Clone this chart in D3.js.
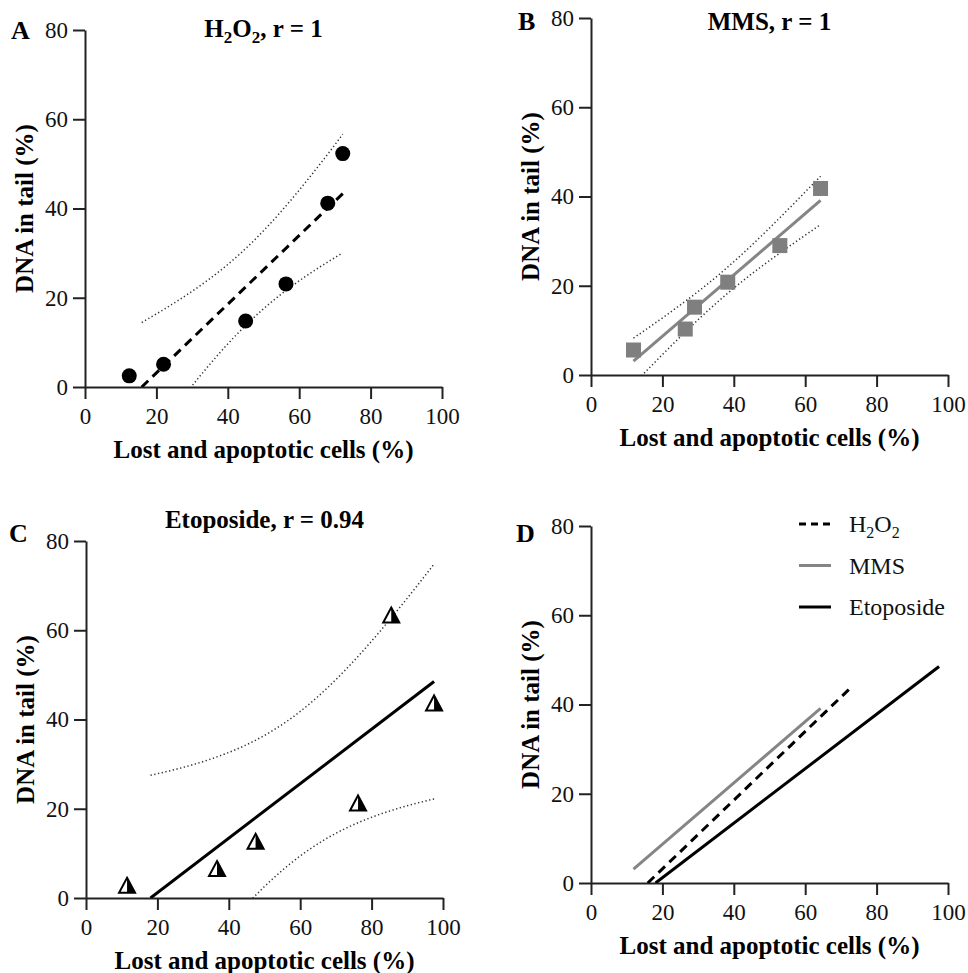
<!DOCTYPE html>
<html>
<head>
<meta charset="utf-8">
<script src="https://cdn.jsdelivr.net/npm/d3@7/dist/d3.min.js"></script>
<style>
  body { margin: 0; background: #fff; }
</style>
</head>
<body>
<div id="chart"></div>
<script>
// tick labels
var xTicks = [0, 20, 40, 60, 80, 100];
var yTicks = [0, 20, 40, 60, 80];

// lost and apoptotic cells (%) vs DNA in tail (%)
var h2o2X = [12.4, 22.0, 45.0, 56.3, 68.0, 72.2];
var h2o2Y = [2.5, 5.1, 14.8, 23.1, 41.2, 52.3];
var mmsX = [11.9, 26.4, 29.0, 38.3, 52.9, 64.3];
var mmsY = [5.6, 10.3, 15.2, 20.8, 29.0, 41.8];
var etoX = [11.5, 36.7, 47.5, 76.2, 85.5, 97.5];
var etoY = [2.85, 6.6, 12.7, 21.3, 63.4, 43.7];

var seriesNames = ['H2O2', 'MMS', 'Etoposide'];

var W = 968, H = 973;
var size = 357;
var font = 'Liberation Serif, Times New Roman, serif';

var svg = d3.select('#chart')
    .append('svg')
        .attr('width', W)
        .attr('height', H)
        .attr('font-family', font)
        .style('font-family', font);

// linear regression + 95% confidence band (n = 6, t = 2.776 for 4 df)
function fit(xs, ys) {
    var n = xs.length;
    var mx = d3.mean(xs), my = d3.mean(ys);
    var sxx = d3.sum(xs, function (x) { return (x - mx) * (x - mx); });
    var sxy = d3.sum(xs, function (x, i) { return (x - mx) * (ys[i] - my); });
    var b = sxy / sxx, a = my - b * mx;
    var ssr = d3.sum(xs, function (x, i) { var r = ys[i] - (a + b * x); return r * r; });
    var s = Math.sqrt(ssr / (n - 2));
    var t = 2.776;
    var x0 = Math.max(d3.min(xs), -a / b), x1 = d3.max(xs);
    var steps = d3.range(0, 81).map(function (i) { return x0 + (x1 - x0) * i / 80; });
    function half(x) { return t * s * Math.sqrt(1 / n + (x - mx) * (x - mx) / sxx); }
    return {
        line: [[x0, a + b * x0], [x1, a + b * x1]],
        upper: steps.map(function (x) { return [x, a + b * x + half(x)]; }),
        lower: steps.map(function (x) { return [x, a + b * x - half(x)]; })
    };
}

var styles = {
    H2O2: { stroke: '#000', dash: '9,6' },
    MMS: { stroke: '#858585', dash: null },
    Etoposide: { stroke: '#000', dash: null }
};

function panel(cfg) {
    var g = svg.append('g').attr('transform', 'translate(' + cfg.left + ',' + cfg.top + ')');
    var x = d3.scaleLinear().domain([0, 100]).range([0, size]);
    var y = d3.scaleLinear().domain([0, 80]).range([size, 0]);

    var clipId = 'clip-' + cfg.letter;
    g.append('clipPath').attr('id', clipId)
        .append('rect')
            .attr('x', 0).attr('y', -40)
            .attr('width', size).attr('height', size + 40);

    var xAxis = g.append('g')
        .attr('transform', 'translate(0,' + size + ')')
        .call(d3.axisBottom(x).tickValues(xTicks).tickSize(12).tickSizeOuter(0).tickPadding(9));
    var yAxis = g.append('g')
        .call(d3.axisLeft(y).tickValues(yTicks).tickSize(12).tickSizeOuter(0).tickPadding(5));
    [xAxis, yAxis].forEach(function (ax) {
        ax.attr('font-family', font).attr('font-size', 23);
        ax.selectAll('path, line').attr('stroke', '#222').attr('stroke-width', 2);
        ax.selectAll('text')
            .attr('fill', '#111')
            .attr('font-family', font)
            .attr('font-size', 23)
            .style('font-family', font)
            .style('font-size', '23px');
    });

    g.append('text')
        .attr('x', size / 2)
        .attr('y', size + 71)
        .attr('text-anchor', 'middle')
        .attr('font-weight', 'bold')
        .attr('font-size', 25)
        .text('Lost and apoptotic cells (%)');

    g.append('text')
        .attr('transform', 'translate(-52,' + (size / 2) + ') rotate(-90)')
        .attr('text-anchor', 'middle')
        .attr('font-weight', 'bold')
        .attr('font-size', 25)
        .text('DNA in tail (%)');

    svg.append('text')
        .attr('x', cfg.letterX)
        .attr('y', cfg.letterY)
        .attr('font-weight', 'bold')
        .attr('font-size', 26)
        .text(cfg.letter);

    if (cfg.title) {
        var t = svg.append('text')
            .attr('x', cfg.left + size / 2)
            .attr('y', cfg.titleY)
            .attr('text-anchor', 'middle')
            .attr('font-weight', 'bold')
            .attr('font-size', 25);
        cfg.title(t);
    }

    var plot = g.append('g').attr('clip-path', 'url(#' + clipId + ')');
    var line = d3.line()
        .x(function (d) { return x(d[0]); })
        .y(function (d) { return y(d[1]); });

    return { g: g, plot: plot, x: x, y: y, line: line };
}

function drawFit(p, name, xs, ys, withBands) {
    var f = fit(xs, ys);
    var st = styles[name];
    if (withBands) {
        [f.upper, f.lower].forEach(function (band) {
            p.plot.append('path')
                .attr('d', p.line(band))
                .attr('fill', 'none')
                .attr('stroke', '#333')
                .attr('stroke-width', 1.5)
                .attr('stroke-dasharray', '1.3,2.5');
        });
    }
    p.plot.append('path')
        .attr('d', p.line(f.line))
        .attr('fill', 'none')
        .attr('stroke', st.stroke)
        .attr('stroke-width', 3)
        .attr('stroke-dasharray', st.dash);
}

function h2o2Text(t, sub) {
    t.append('tspan').text('H');
    t.append('tspan').attr('dy', 6).attr('font-size', sub).text('2');
    t.append('tspan').attr('dy', -6).text('O');
    t.append('tspan').attr('dy', 6).attr('font-size', sub).text('2');
}

// A: H2O2
var pA = panel({ letter: 'A', left: 85, top: 30, letterX: 11, letterY: 39, titleY: 37,
    title: function (t) { h2o2Text(t, 17); t.append('tspan').attr('dy', -6).text(', r = 1'); } });
drawFit(pA, 'H2O2', h2o2X, h2o2Y, true);
pA.g.append('g').selectAll('circle')
    .data(h2o2X)
    .enter()
    .append('circle')
        .attr('cx', function (d) { return pA.x(d); })
        .attr('cy', function (d, i) { return pA.y(h2o2Y[i]); })
        .attr('r', 7.5)
        .attr('fill', '#000');

// B: MMS
var pB = panel({ letter: 'B', left: 591, top: 18, letterX: 518, letterY: 30, titleY: 30,
    title: function (t) { t.text('MMS, r = 1'); } });
drawFit(pB, 'MMS', mmsX, mmsY, true);
pB.g.append('g').selectAll('rect')
    .data(mmsX)
    .enter()
    .append('rect')
        .attr('x', function (d) { return pB.x(d) - 7.5; })
        .attr('y', function (d, i) { return pB.y(mmsY[i]) - 7.5; })
        .attr('width', 15)
        .attr('height', 15)
        .attr('fill', '#7f7f7f');

// C: Etoposide
var pC = panel({ letter: 'C', left: 86, top: 541, letterX: 9, letterY: 542, titleY: 528,
    title: function (t) { t.text('Etoposide, r = 0.94'); } });
drawFit(pC, 'Etoposide', etoX, etoY, true);
var tri = pC.g.append('g').selectAll('g')
    .data(etoX)
    .enter()
    .append('g')
        .attr('transform', function (d, i) { return 'translate(' + pC.x(d) + ',' + pC.y(etoY[i]) + ')'; });
tri.append('path')
    .attr('d', 'M0,-7.5L8,7.5H-8Z')
    .attr('fill', '#fff')
    .attr('stroke', '#000')
    .attr('stroke-width', 2)
    .attr('stroke-linejoin', 'miter');
tri.append('path')
    .attr('d', 'M0,-7.5L8,7.5H0Z')
    .attr('fill', '#000');

// D: all fits
var pD = panel({ letter: 'D', left: 591, top: 526, letterX: 516, letterY: 542, titleY: null, title: null });
drawFit(pD, 'MMS', mmsX, mmsY, false);
drawFit(pD, 'H2O2', h2o2X, h2o2Y, false);
drawFit(pD, 'Etoposide', etoX, etoY, false);

var legend = svg.append('g').attr('transform', 'translate(799,524)');
var rows = legend.selectAll('g')
    .data(seriesNames)
    .enter()
    .append('g')
        .attr('transform', function (d, i) { return 'translate(0,' + (i * 41.5) + ')'; });
rows.append('line')
    .attr('x1', 0).attr('x2', 32)
    .attr('y1', 0).attr('y2', 0)
    .attr('stroke', function (d) { return styles[d].stroke; })
    .attr('stroke-width', 3)
    .attr('stroke-dasharray', function (d) { return styles[d].dash ? '7,5' : null; });
rows.append('text')
    .attr('x', 50)
    .attr('y', 8)
    .attr('font-size', 24)
    .attr('fill', '#111')
    .each(function (d) {
        var t = d3.select(this);
        if (d === 'H2O2') {
            h2o2Text(t, 16);
        } else {
            t.text(d);
        }
    });
</script>
</body>
</html>
